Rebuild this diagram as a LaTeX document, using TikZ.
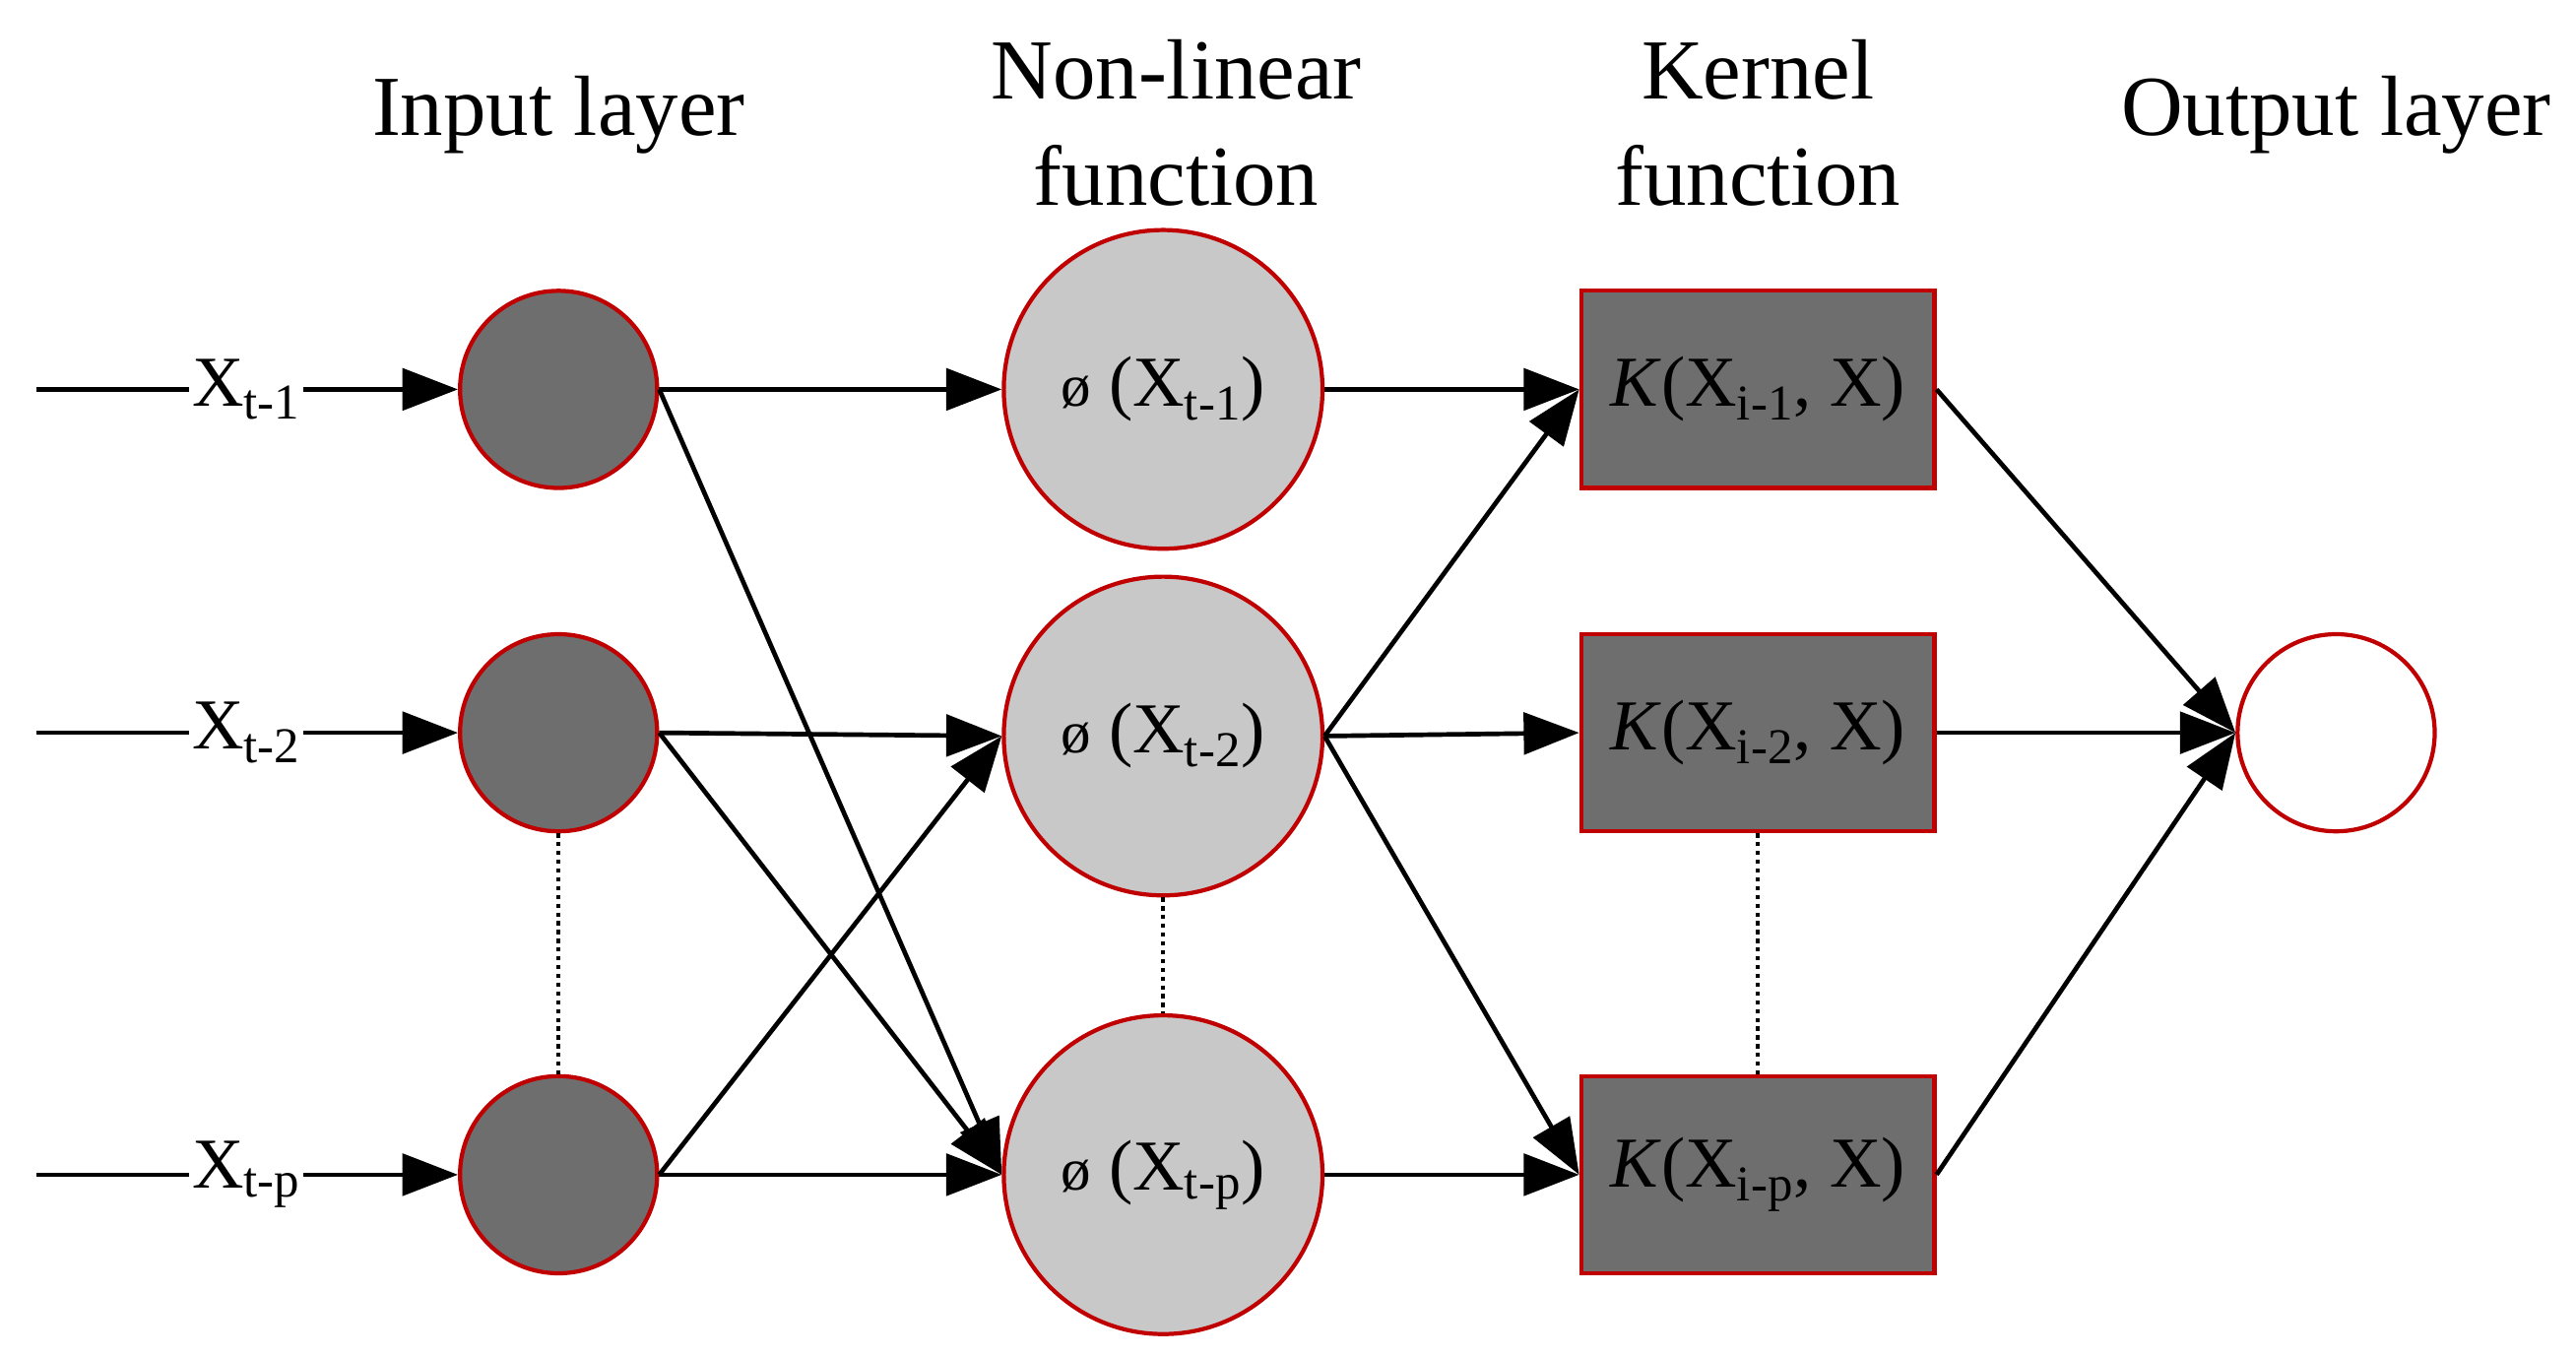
\documentclass[tikz,border=0pt]{standalone}
\usepackage{fontspec}
\setmainfont{Liberation Serif}
\usetikzlibrary{arrows.meta}
\definecolor{dk}{HTML}{6E6E6E}
\definecolor{lt}{HTML}{C8C8C8}
\definecolor{rd}{HTML}{C00000}
\begin{document}
\begin{tikzpicture}[x=0.025cm,y=-0.025cm,
 every node/.style={font=\fontsize{31}{36}\selectfont},
 inp/.style={circle,draw=rd,line width=1.8pt,fill=dk,minimum size=120*0.025cm,inner sep=0pt},
 nl/.style={circle,draw=rd,line width=1.8pt,fill=lt,minimum size=194*0.025cm,inner sep=0pt},
 ker/.style={rectangle,draw=rd,line width=1.8pt,fill=dk,minimum width=215*0.025cm,minimum height=120*0.025cm,inner sep=0pt},
 outn/.style={circle,draw=rd,line width=1.8pt,fill=white,minimum size=120*0.025cm,inner sep=0pt},
 ar/.style={-{Triangle[length=24pt,width=18pt]},line width=2pt},
 title/.style={align=center,font=\fontsize{37}{46}\selectfont}]
\useasboundingbox (0,0) rectangle (1568,825);
\node[title] (t1) at (340,70) {Input layer};
\node[title] (t2) at (716,75) {Non-linear\\function};
\node[title] (t3) at (1070,75) {Kernel\\function};
\node[title] (t4) at (1422,70) {Output layer};
\node[inp] (i1) at (340,237) {};
\node[inp] (i2) at (340,446) {};
\node[inp] (ip) at (340,715) {};
\node[nl] (n1) at (708,237) {{\fontsize{26}{32}\selectfont ø} (X\textsubscript{t-1})};
\node[nl] (n2) at (708,448) {{\fontsize{26}{32}\selectfont ø} (X\textsubscript{t-2})};
\node[nl] (np) at (708,715) {{\fontsize{26}{32}\selectfont ø} (X\textsubscript{t-p})};
\node[ker] (k1) at (1070,237) {\textit{K}(X\textsubscript{i-1}, X)};
\node[ker] (k2) at (1070,446) {\textit{K}(X\textsubscript{i-2}, X)};
\node[ker] (kp) at (1070,715) {\textit{K}(X\textsubscript{i-p}, X)};
\node[outn] (o) at (1422,446) {};
\foreach \n/\y/\s in {1/237/t-1,2/446/t-2,p/715/t-p}{
 \coordinate (s\n) at (22,\y);
 \node[fill=white,inner sep=1pt] (l\n) at (150,\y) {X\textsubscript{\s}};
 \draw[line width=2pt] (s\n) -- (l\n);
 \draw[ar] (l\n) -- (i\n);
}
\draw[ar] (i1.east) -- (n1.west);
\draw[ar] (i1.east) -- (np.west);
\draw[ar] (i2.east) -- (n2.west);
\draw[ar] (i2.east) -- (np.west);
\draw[ar] (ip.east) -- (n2.west);
\draw[ar] (ip.east) -- (np.west);
\draw[ar] (n1.east) -- (k1.west);
\draw[ar] (n2.east) -- (k1.west);
\draw[ar] (n2.east) -- (k2.west);
\draw[ar] (n2.east) -- (kp.west);
\draw[ar] (np.east) -- (kp.west);
\draw[ar] (k1.east) -- (o.west);
\draw[ar] (k2.east) -- (o.west);
\draw[ar] (kp.east) -- (o.west);
\draw[dotted,line width=1.8pt] (i2) -- (ip);
\draw[dotted,line width=1.8pt] (n2) -- (np);
\draw[dotted,line width=1.8pt] (k2) -- (kp);
\end{tikzpicture}
\end{document}
